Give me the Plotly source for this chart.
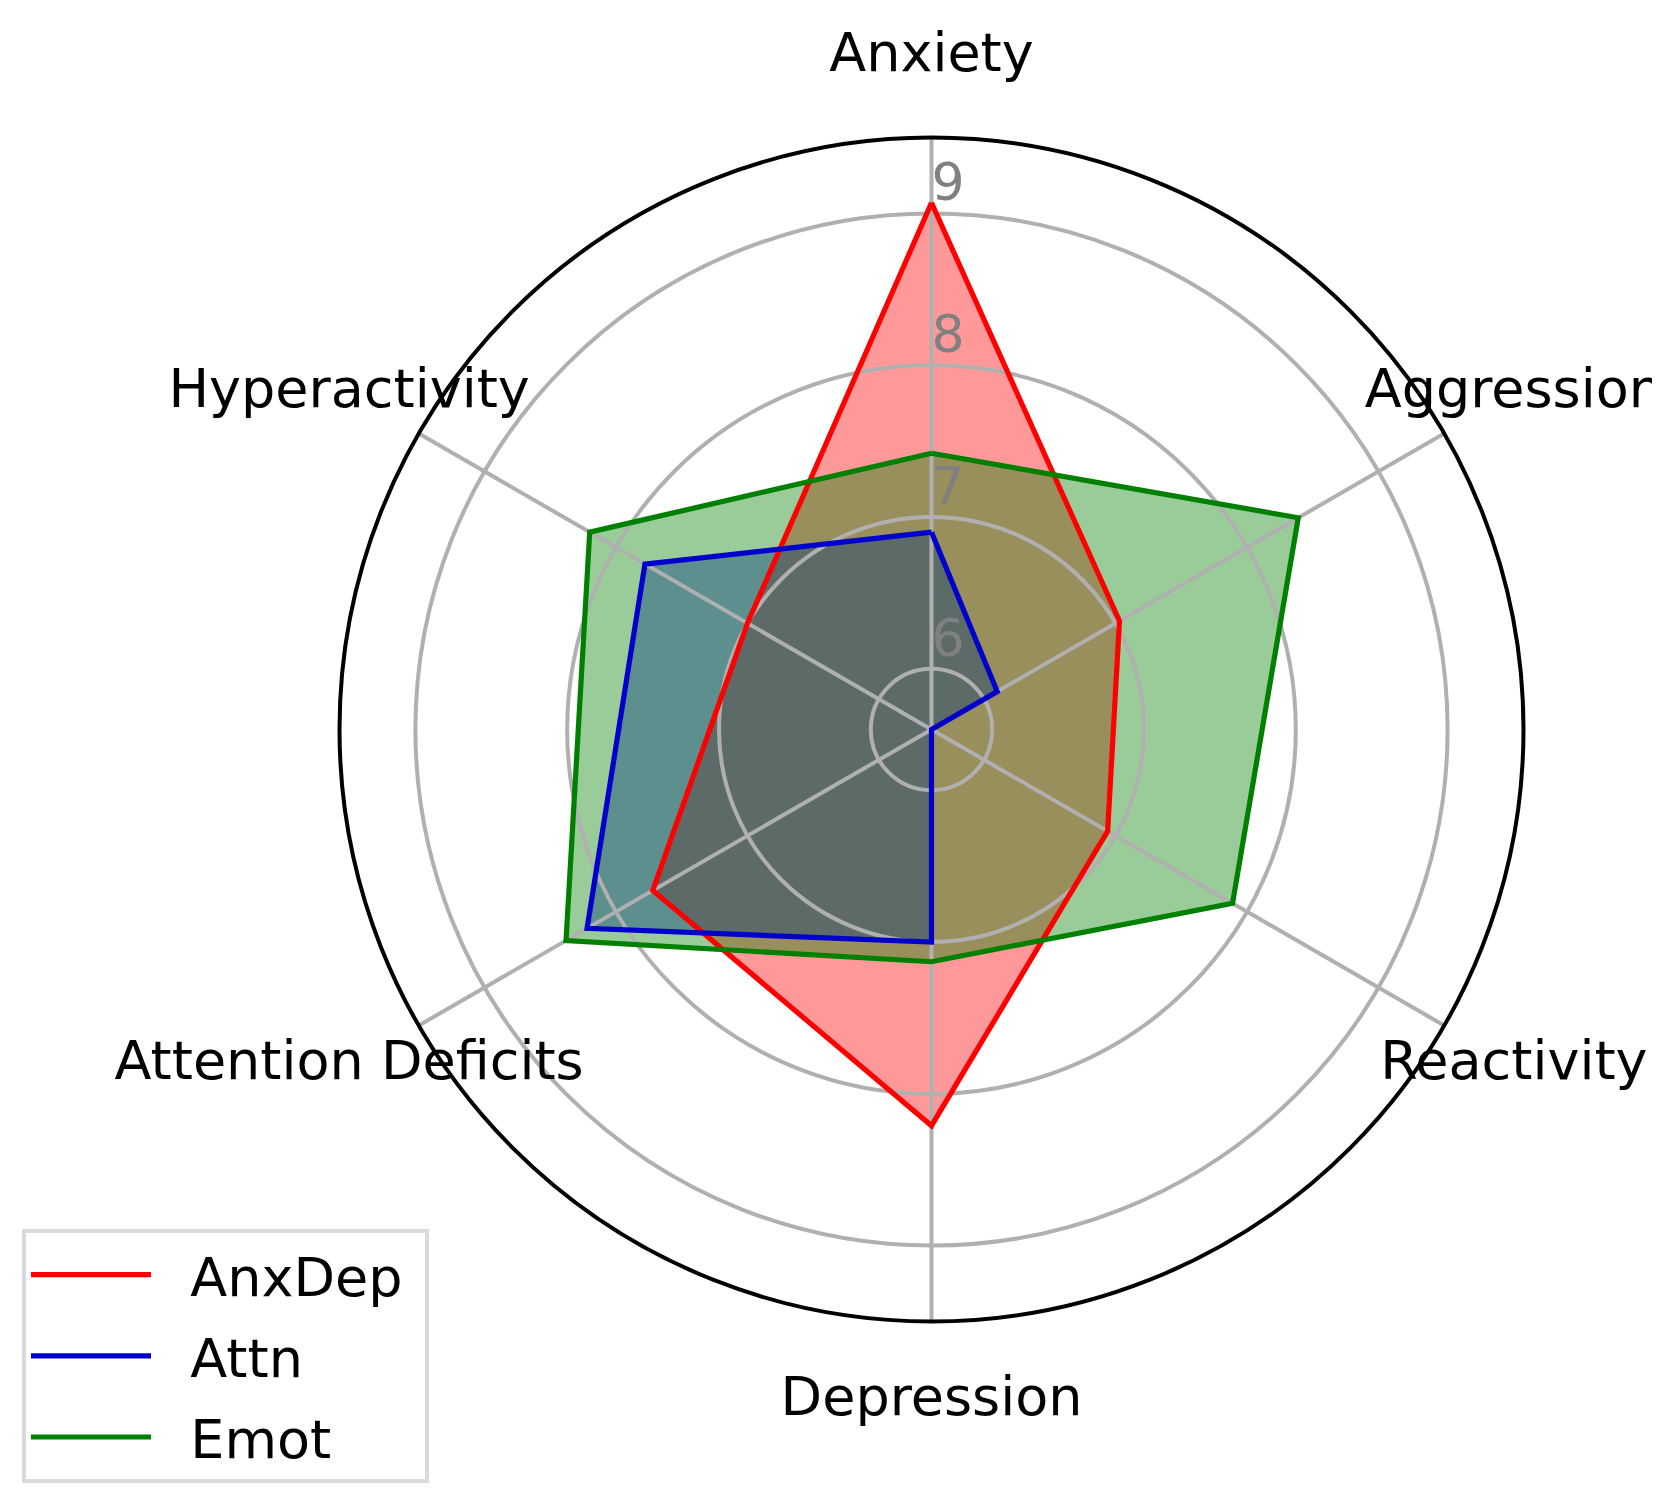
import plotly.graph_objects as go

categories = ["Anxiety", "Aggression", "Reactivity", "Depression", "Attention Deficits", "Hyperactivity"]
anxdep = [9.07, 7.03, 6.94, 8.21, 7.72, 7.00]
attn = [6.90, 6.10, 5.60, 7.00, 8.22, 7.78]
emot = [7.42, 8.39, 7.89, 7.13, 8.38, 8.20]
radial_ticks = [6, 7, 8, 9]
radial_range = [5.6, 9.5]

series = [
    ("AnxDep", anxdep, "#ff0000", "rgba(255,0,0,0.4)"),
    ("Attn", attn, "#0000cd", "rgba(0,0,205,0.4)"),
    ("Emot", emot, "#008000", "rgba(0,128,0,0.4)"),
]

# layout geometry (pixels)
W, H = 1660, 1491
CX, CY = 923.5, 721.5
R_MAIN = 592.0
OUTER_MAX = 10.2
LABEL_R = 10.03
FONT = "DejaVu Sans"
GRID = "#b0b0b0"

px_per_unit = R_MAIN / (radial_range[1] - radial_range[0])
R_OUT = px_per_unit * (OUTER_MAX - radial_range[0])


def dom(r):
    return dict(x=[(CX - r) / W, (CX + r) / W], y=[1 - (CY + r) / H, 1 - (CY - r) / H])


fig = go.Figure()

# fills (bottom subplot)
for name, vals, col, fcol in series:
    fig.add_trace(go.Scatterpolar(
        r=vals + vals[:1], theta=categories + categories[:1],
        mode="lines", fill="toself", fillcolor=fcol,
        line=dict(width=0, color=fcol), showlegend=False, hoverinfo="skip",
        subplot="polar"))

# invisible trace for the grid subplot
fig.add_trace(go.Scatterpolar(
    r=[radial_range[0]] * len(categories), theta=categories, mode="markers",
    marker=dict(opacity=0), showlegend=False, hoverinfo="skip", subplot="polar2"))

# outlines (top subplot)
for i, (name, vals, col, fcol) in enumerate(series):
    fig.add_trace(go.Scatterpolar(
        r=vals + vals[:1], theta=categories + categories[:1],
        mode="lines", line=dict(width=5.2, color=col),
        name="\u00a0\u00a0" + name + "\u00a0",
        legendgroup="g%d" % i, subplot="polar3"))

# radial tick labels
fig.add_trace(go.Scatterpolar(
    r=radial_ticks, theta=[categories[0]] * len(radial_ticks),
    mode="text", text=[str(t) for t in radial_ticks],
    textposition="top right",
    textfont=dict(family=FONT, size=52, color="#808080"),
    showlegend=False, hoverinfo="skip", subplot="polar3"))

# category labels
fig.add_trace(go.Scatterpolar(
    r=[LABEL_R] * len(categories), theta=categories,
    mode="text", text=categories, textposition="middle center",
    textfont=dict(family=FONT, size=54, color="black"),
    showlegend=False, hoverinfo="skip", subplot="polar3"))

ang_common = dict(rotation=90, direction="clockwise", categoryorder="array",
                  categoryarray=categories, showticklabels=False, ticks="")
rad_common = dict(tickvals=radial_ticks, showticklabels=False, ticks="", showline=False)

fig.update_layout(
    width=W, height=H,
    margin=dict(l=0, r=0, t=0, b=0),
    paper_bgcolor="white",
    font=dict(family=FONT, size=54, color="black"),
    polar=dict(
        domain=dom(R_MAIN), bgcolor="white",
        radialaxis=dict(range=radial_range, showgrid=False, **rad_common),
        angularaxis=dict(showgrid=False, showline=False, **ang_common),
    ),
    polar2=dict(
        domain=dom(R_MAIN), bgcolor="rgba(0,0,0,0)",
        radialaxis=dict(range=radial_range, showgrid=True, gridcolor=GRID, gridwidth=4, **rad_common),
        angularaxis=dict(showgrid=True, gridcolor=GRID, gridwidth=4, showline=True,
                         linecolor="black", linewidth=4, **ang_common),
    ),
    polar3=dict(
        domain=dom(R_OUT), bgcolor="rgba(0,0,0,0)",
        radialaxis=dict(range=[radial_range[0], OUTER_MAX], showgrid=False, **rad_common),
        angularaxis=dict(showgrid=False, showline=False, **ang_common),
    ),
    legend=dict(x=14 / W, y=1 - 1221 / H, xanchor="left", yanchor="top",
                bgcolor="white", bordercolor="#d9d9d9", borderwidth=4,
                font=dict(family=FONT, size=54, color="black"),
                traceorder="grouped", tracegroupgap=8, itemwidth=120),
)

fig.write_html("out.html")
